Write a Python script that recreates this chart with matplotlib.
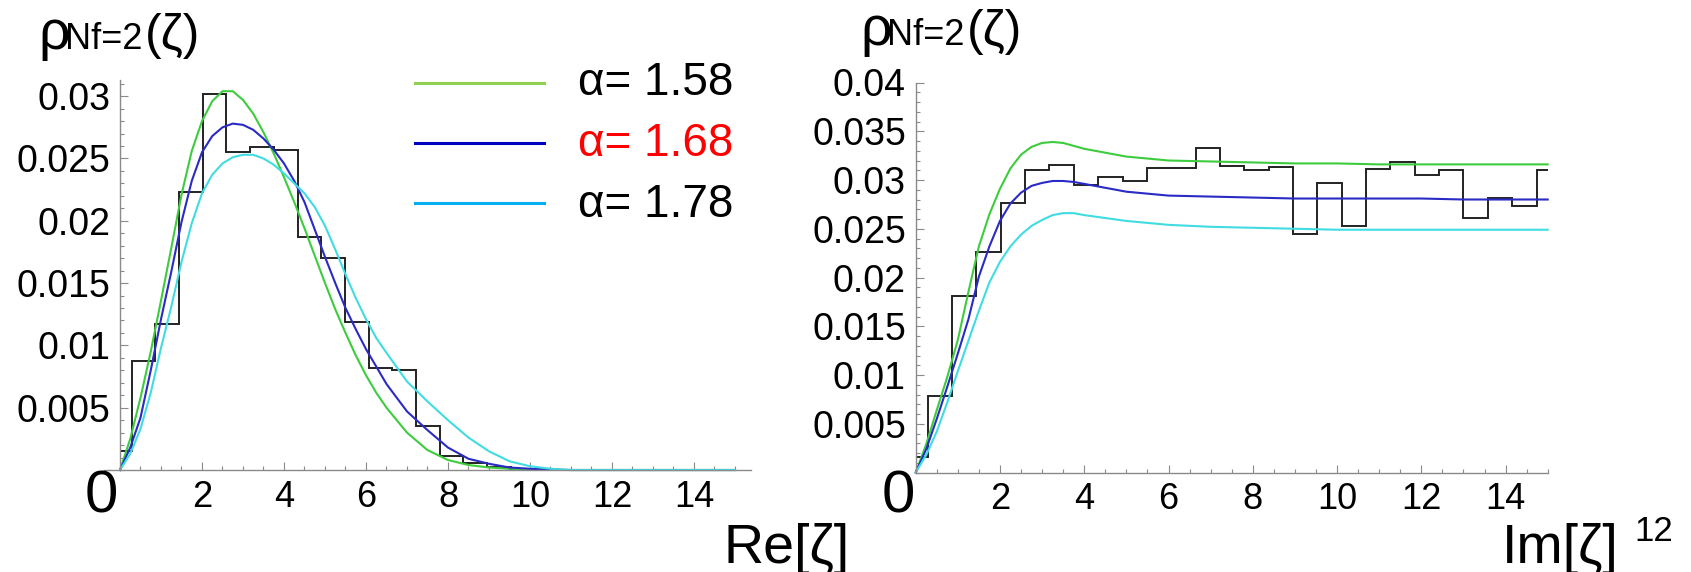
import matplotlib
matplotlib.use('Agg')
import matplotlib.pyplot as plt
from matplotlib.lines import Line2D
from matplotlib.ticker import MultipleLocator

plt.rcParams['font.family'] = ['Liberation Sans', 'DejaVu Sans']

# histogram bin edges (same binning in both panels)
edges = [0, 0.285, 0.863, 1.441, 2.019, 2.597, 3.175, 3.753, 4.331, 4.909, 5.487,
         6.065, 6.643, 7.221, 7.799, 8.377, 8.955, 9.533, 10.111, 10.689, 11.267,
         11.845, 12.423, 13.001, 13.579, 14.157, 14.735, 15.0]

# Re part histogram (ends at 10.689)
hist_re = [0.00152, 0.00877, 0.0117, 0.0223, 0.0302, 0.02555, 0.0259, 0.02565,
           0.01867, 0.01704, 0.01188, 0.00816, 0.00803, 0.00353, 0.00115, 0.00057,
           0.00027, 0.0001, 0.0001]
# Im part histogram
hist_im = [0.00154, 0.00785, 0.0181, 0.0226, 0.02765, 0.0310, 0.0315, 0.02945,
           0.0303, 0.0299, 0.0312, 0.0312, 0.0333, 0.0314, 0.0310, 0.03134, 0.0245,
           0.02968, 0.02529, 0.03117, 0.03182, 0.03053, 0.031, 0.0261, 0.02811,
           0.0273, 0.031]

# theory curves
re_x = [0, 0.25, 0.5, 0.75, 1.0, 1.25, 1.5, 1.75, 2.0, 2.25, 2.5, 2.75, 3.0, 3.25,
        3.5, 3.75, 4.0, 4.25, 4.5, 4.75, 5.0, 5.25, 5.5, 5.75, 6.0, 6.25, 6.5,
        7.0, 7.5, 8.0, 8.5, 9.0, 9.5, 10.0, 10.5, 11.0, 12.0, 13.0, 14.0, 15.0]
re_158 = [0, .0025, .0058, .0095, .0136, .0178, .0221, .0256, .0280, .0296, .0304,
          .0304, .0297, .0286, .0271, .0254, .0235, .0215, .0194, .0172, .0150,
          .0129, .0110, .0092, .0076, .0062, .0050,
          .0030, .0016, .0008, .0004, .0002, .0001, .00004, .00001, 0, 0, 0, 0, 0]
re_168 = [0, .0018, .0042, .0080, .0121, .0159, .0199, .0232, .0255, .0268, .0275,
          .0278, .0277, .0273, .0266, .0257, .0246, .0232, .0215, .0193, .0171,
          .0150, .0130, .0113, .0097, .0083, .0069,
          .0047, .0032, .0018, .0009, .0005, .0002, .0001, .00003, 0, 0, 0, 0, 0]
re_178 = [0, .0013, .0033, .0062, .0098, .0131, .0167, .0198, .0222, .0237, .0246,
          .0251, .0253, .0253, .0250, .0245, .0238, .0230, .0222, .0211, .0196,
          .0177, .0157, .0138, .0121, .0106, .0094,
          .0071, .0055, .0040, .0026, .0015, .0007, .0003, .0001, 0, 0, 0, 0, 0]

im_x = [0, 0.25, 0.5, 0.75, 1.0, 1.25, 1.5, 1.75, 2.0, 2.25, 2.5, 2.75, 3.0, 3.25,
        3.5, 3.75, 4.0, 4.5, 5.0, 5.5, 6.0, 7.0, 8.0, 9.0, 10.0, 11.0, 12.0, 13.0,
        14.0, 15.0]
im_158 = [0, .0029, .0064, .0098, .0136, .0185, .0232, .0265, .0291, .0312, .0326,
          .0334, .0338, .0339, .0338, .0335, .0332, .0328, .0324, .0322, .0320,
          .0319, .0318, .0317, .0317, .0316, .0316, .0316, .0316, .0316]
im_168 = [0, .0024, .0055, .0088, .0122, .0157, .0201, .0232, .0258, .0276, .0287,
          .0294, .0297, .0299, .0299, .0298, .0296, .0292, .0288, .0286, .0284,
          .0283, .0282, .0281, .0281, .0281, .0281, .0280, .0280, .0280]
im_178 = [0, .0018, .0042, .0072, .0104, .0135, .0166, .0195, .0216, .0232, .0244,
          .0253, .0259, .0264, .0266, .0266, .0264, .0261, .0258, .0256, .0254,
          .0252, .0251, .0250, .0249, .0249, .0249, .0249, .0249, .0249]

alphas = ['α= 1.58', 'α= 1.68', 'α= 1.78']
curve_cols = ['#3dcc3d', '#2a2ac4', '#40dce2']
legend_cols = ['#8fd14f', '#0000c0', '#00b0f0']
label_cols = ['black', '#ff0000', 'black']

re_ticks = [0.005, 0.01, 0.015, 0.02, 0.025, 0.03]
re_labels = ['0.005', '0.01', '0.015', '0.02', '0.025', '0.03']
im_ticks = [0.005, 0.01, 0.015, 0.02, 0.025, 0.03, 0.035, 0.04]
im_labels = ['0.005', '0.01', '0.015', '0.02', '0.025', '0.03', '0.035', '0.04']
x_ticks = [2, 4, 6, 8, 10, 12, 14]

W, H = 1691, 572
fig = plt.figure(figsize=(W / 100, H / 100), dpi=100)

ax1 = fig.add_axes([103.6 / W, 102 / H, 647.8 / W, 390 / H])
ax2 = fig.add_axes([915.7 / W, 99.5 / H, 632 / W, 390 / H])

gray = '#8a8a8a'
for ax in (ax1, ax2):
    for s in ('top', 'right'):
        ax.spines[s].set_visible(False)
    for s in ('left', 'bottom'):
        ax.spines[s].set_color(gray)
        ax.spines[s].set_linewidth(1.0)
    ax.xaxis.set_minor_locator(MultipleLocator(0.5))
    ax.yaxis.set_minor_locator(MultipleLocator(0.001))
    ax.tick_params(which='both', direction='in', color=gray, width=0.8)
    ax.tick_params(which='major', length=6)
    ax.tick_params(which='minor', length=3)
    ax.tick_params(axis='y', labelsize=27, pad=7)
    ax.tick_params(axis='x', labelsize=26, pad=7)
    ax.set_xticks(x_ticks)
    ax.set_xticklabels([str(t) for t in x_ticks])
    ax.patch.set_alpha(0)

# left panel: Re
ax1.set_xlim(-0.4, 15.4)
ax1.set_ylim(0, 0.0313)
ax1.spines['left'].set_position(('data', 0))
ax1.set_yticks(re_ticks)
ax1.set_yticklabels(re_labels)
ax1.stairs(hist_re, edges[:len(hist_re) + 1], baseline=None, color='#222222', lw=1.4)
for ys, c in zip([re_158, re_168, re_178], curve_cols):
    ax1.plot(re_x, ys, color=c, lw=1.5, clip_on=False)

# right panel: Im
ax2.set_xlim(0, 15.0)
ax2.set_ylim(0, 0.0398)
ax2.set_yticks(im_ticks)
ax2.set_yticklabels(im_labels)
ax2.stairs(hist_im, edges, baseline=None, color='#222222', lw=1.4)
for ys, c in zip([im_158, im_168, im_178], curve_cols):
    ax2.plot(im_x, ys, color=c, lw=1.5, clip_on=False)

# legend drawn by hand, as on the slide
for i in range(3):
    y = 1 - (83 + 60 * i) / H
    fig.add_artist(Line2D([415 / W, 544 / W], [y, y], transform=fig.transFigure,
                          color=legend_cols[i], lw=2.2))
    fig.text(578 / W, 1 - (95 + 61 * i) / H, alphas[i], fontsize=33,
             color=label_cols[i], va='baseline')

# panel titles rho_{Nf=2}(zeta)
for dx, base in ((0, 49), (822, 45)):
    yb = 1 - base / H
    fig.text((38 + dx) / W, yb, 'ρ', fontsize=40, va='baseline')
    fig.text((65 + dx) / W, yb, 'Nf=2', fontsize=26, va='baseline')
    fig.text((145 + dx) / W, yb, '(ζ)', fontsize=36, va='baseline')

# big zeros at origins
fig.text(101 / W, 1 - 497 / H, '0', fontsize=43, ha='center', va='center')
fig.text(898 / W, 1 - 497 / H, '0', fontsize=43, ha='center', va='center')

fig.text(723 / W, 1 - 563 / H, 'Re[ζ]', fontsize=40, va='baseline')
fig.text(1502 / W, 1 - 563 / H, 'Im[ζ]', fontsize=40, va='baseline')
fig.text(1634 / W, 1 - 541 / H, '12', fontsize=25, va='baseline')

fig.savefig('out.png', dpi=100)
